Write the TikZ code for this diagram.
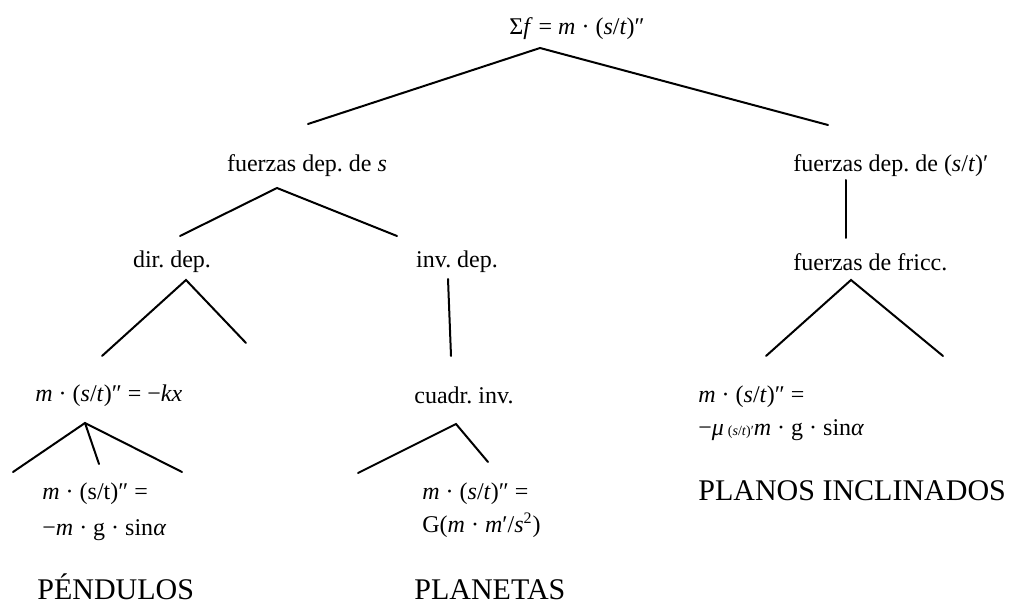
\documentclass[tikz,border=0pt]{standalone}
\usepackage{fontspec}
\setmainfont{Liberation Serif}
\frenchspacing
\begin{document}
\begin{tikzpicture}[
        x={(0.5pt,0pt)},
        y={(0pt,-0.5pt)},
        line cap=round,
        every node/.style={inner sep=0pt, font=\fontsize{12}{18}\selectfont},
        rama/.style={line width=1pt},
        titulo/.style={font=\fontsize{15}{18}\selectfont, anchor=base west},
    ]

    % 画布范围
    \useasboundingbox (0,0) rectangle (1010,603);

    % ---- 节点 ----
    \node (raiz) at (577,29) {Σ\textit{f} = \textit{m} · (\textit{s}/\textit{t})″};

    \node (depS) at (307,166) {fuerzas dep. de \textit{s}};
    \node[anchor=west] (depV) at (793,166) {fuerzas dep. de (\textit{s}/\textit{t})′};

    \node (dir) at (172,262) {dir. dep.};
    \node (inv) at (457,262) {inv. dep.};
    \node[anchor=west] (fric) at (793,262) {fuerzas de fricc.};

    \node[anchor=west] (hooke) at (35,396) {\textit{m} · (\textit{s}/\textit{t})″ = −\textit{kx}};
    \node[anchor=west] (cuadr) at (414,395) {cuadr. inv.};
    \node[anchor=west, align=left] (ecFric) at (698,413)
        {\textit{m} · (\textit{s}/\textit{t})″ =\\[-1.5pt]
         −\textit{μ}\,{\scriptsize(\textit{s}/\textit{t})′}\textit{m} · g · sin\textit{α}};

    \node[anchor=west, align=left] (ecPend) at (42,512)
        {\textit{m} · (s/t)″ =\\
         −\textit{m} · g · sin\textit{α}};
    \node[anchor=west, align=left] (ecPlan) at (422,510)
        {\textit{m} · (\textit{s}/\textit{t})″ =\\[-1.5pt]
         G(\textit{m} · \textit{m}′/\textit{s}\textsuperscript{2})};

    % 标题
    \node[titulo] (pend) at (37,599) {PÉNDULOS};
    \node[titulo] (plan) at (414,599) {PLANETAS};
    \node[titulo] (planos) at (698,500) {PLANOS INCLINADOS};

    % ---- 分支端点 ----
    \coordinate (a0) at (540,48);
    \coordinate (a0L) at (308,124);
    \coordinate (a0R) at (828,125);

    \coordinate (a1) at (277,188);
    \coordinate (a1L) at (180,236);
    \coordinate (a1R) at (397,236);

    \coordinate (v1T) at (846,180);
    \coordinate (v1B) at (846,238);

    \coordinate (a2) at (186,280);
    \coordinate (a2L) at (102,356);
    \coordinate (a2R) at (246,343);

    \coordinate (v2T) at (448,279);
    \coordinate (v2B) at (451,356);

    \coordinate (a3) at (851,280);
    \coordinate (a3L) at (766,356);
    \coordinate (a3R) at (943,356);

    \coordinate (a4) at (85,423);
    \coordinate (a4L) at (13,472);
    \coordinate (a4M) at (99,464);
    \coordinate (a4R) at (182,472);

    \coordinate (a5) at (456,424);
    \coordinate (a5L) at (358,473);
    \coordinate (a5R) at (488,462);

    % ---- 分支线 ----
    \draw[rama] (a0L) -- (a0) -- (a0R);
    \draw[rama] (a1L) -- (a1) -- (a1R);
    \draw[rama] (v1T) -- (v1B);
    \draw[rama] (a2L) -- (a2) -- (a2R);
    \draw[rama] (v2T) -- (v2B);
    \draw[rama] (a3L) -- (a3) -- (a3R);
    \draw[rama] (a4L) -- (a4) -- (a4R);
    \draw[rama] (a4) -- (a4M);
    \draw[rama] (a5L) -- (a5) -- (a5R);

\end{tikzpicture}
\end{document}
